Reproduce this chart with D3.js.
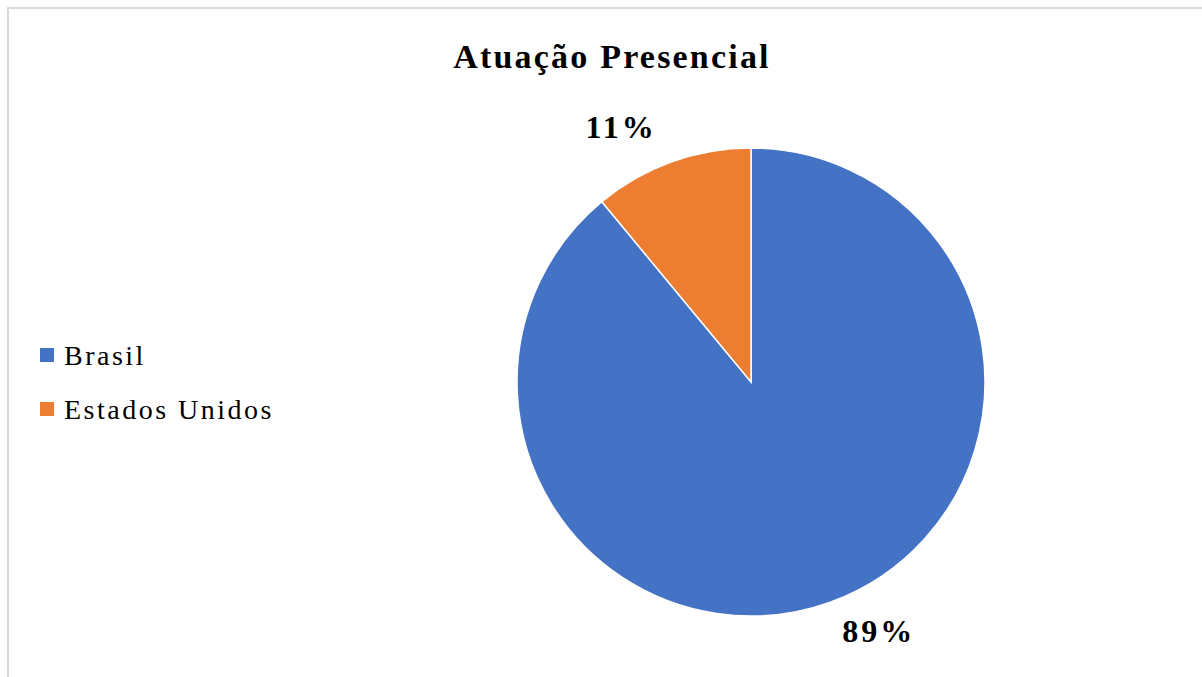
<!DOCTYPE html>
<html>
<head>
<meta charset="utf-8">
<script src="https://cdn.jsdelivr.net/npm/d3@7"></script>
<style>
  body { margin: 0; background: #fff; }
  svg { display: block; }
</style>
</head>
<body>
<svg id="chart" width="1202" height="677"></svg>
<script>
// Chart data
const categories = ["Brasil", "Estados Unidos"];
const values = [89, 11];
const labels = ["89%", "11%"];
const colors = ["#4472C4", "#ED7D31"];

const svg = d3.select("#chart");

// chart frame (only top and left edges are visible in the crop)
svg.append("rect")
  .attr("x", 8).attr("y", 8)
  .attr("width", 1300).attr("height", 800)
  .attr("fill", "none")
  .attr("stroke", "#d9d9d9")
  .attr("stroke-width", 2);

const serif = "'Liberation Serif', 'Times New Roman', serif";

// title
svg.append("text")
  .attr("x", 612).attr("y", 68)
  .attr("text-anchor", "middle")
  .attr("font-family", serif)
  .attr("font-weight", "bold")
  .attr("font-size", 34)
  .attr("letter-spacing", 2.2)
  .text("Atuação Presencial");

// pie
const cx = 751, cy = 382, radius = 234;
const pie = d3.pie().sort(null).value(d => d)(values);
const arc = d3.arc().innerRadius(0).outerRadius(radius);

const g = svg.append("g").attr("transform", `translate(${cx},${cy})`);
g.selectAll("path")
  .data(pie)
  .enter()
  .append("path")
  .attr("d", arc)
  .attr("fill", (d, i) => colors[i])
  .attr("stroke", "#fff")
  .attr("stroke-width", 1.5);

// data labels, placed just outside the slice mid-angle
const labelArc = d3.arc().innerRadius(radius + 40).outerRadius(radius + 40);
const labelOffsets = [[35, -5], [-37, 6]];
g.selectAll(".pct")
  .data(pie)
  .enter()
  .append("text")
  .attr("class", "pct")
  .attr("x", (d, i) => labelArc.centroid(d)[0] + labelOffsets[i][0])
  .attr("y", (d, i) => labelArc.centroid(d)[1] + labelOffsets[i][1])
  .attr("text-anchor", "middle")
  .attr("dominant-baseline", "middle")
  .attr("font-family", serif)
  .attr("font-weight", "bold")
  .attr("font-size", 32)
  .attr("letter-spacing", 3)
  .text((d, i) => labels[i]);

// legend
const legendY = d3.scalePoint().domain(categories).range([355, 409]);
const legend = svg.append("g");
legend.selectAll("rect")
  .data(categories)
  .enter()
  .append("rect")
  .attr("x", 40)
  .attr("y", d => legendY(d) - 7)
  .attr("width", 14).attr("height", 14)
  .attr("fill", (d, i) => colors[i]);

legend.selectAll("text")
  .data(categories)
  .enter()
  .append("text")
  .attr("x", 64)
  .attr("y", d => legendY(d) + 10)
  .attr("font-family", serif)
  .attr("font-size", 28)
  .attr("letter-spacing", 2.5)
  .text(d => d);
</script>
</body>
</html>
